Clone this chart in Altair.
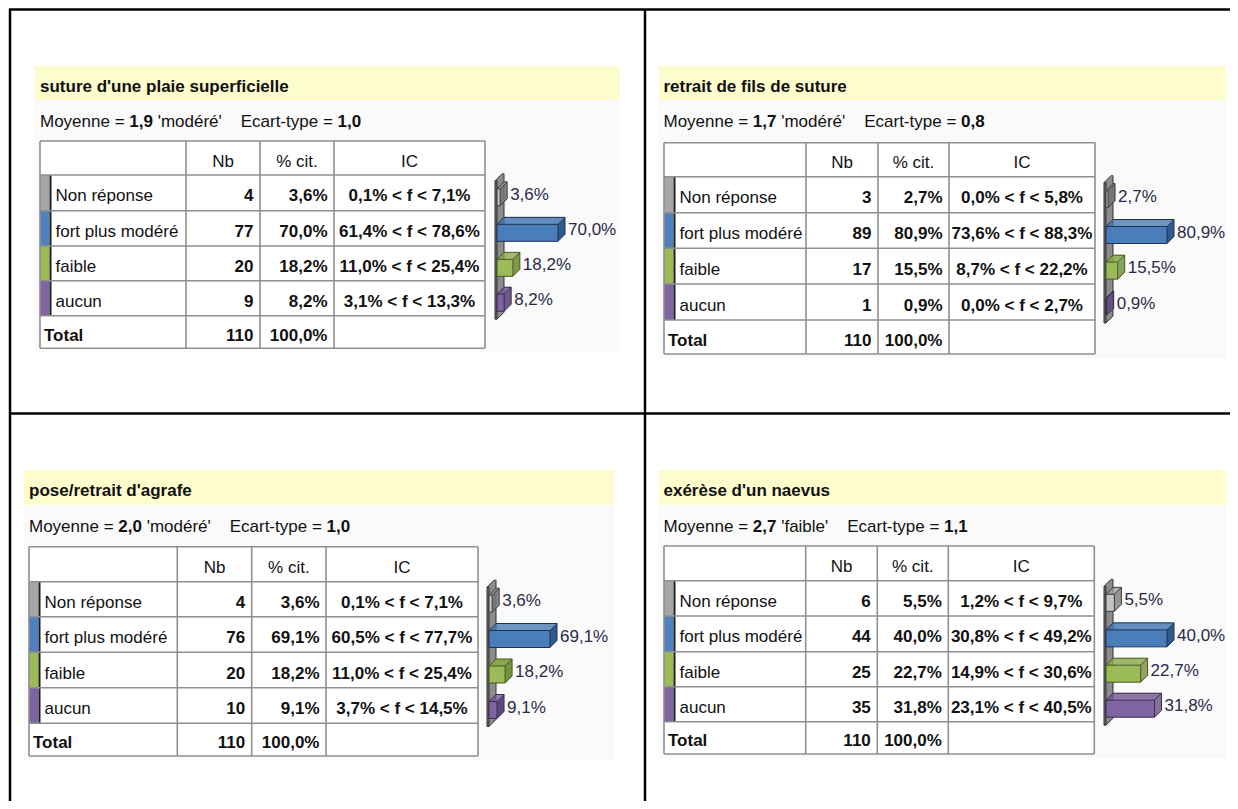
import altair as alt
import pandas as pd

# ---------------- data ----------------
titles = ["suture d'une plaie superficielle", "retrait de fils de suture",
          "pose/retrait d'agrafe", "exérèse d'un naevus"]
categories = ["Non réponse", "fort plus modéré", "faible", "aucun"]
header = ["", "Nb", "% cit.", "IC"]
total_label = "Total"
nb = [[4, 77, 20, 9], [3, 89, 17, 1], [4, 76, 20, 10], [6, 44, 25, 35]]
pct = [[3.6, 70.0, 18.2, 8.2], [2.7, 80.9, 15.5, 0.9],
       [3.6, 69.1, 18.2, 9.1], [5.5, 40.0, 22.7, 31.8]]
ic_low = [[0.1, 61.4, 11.0, 3.1], [0.0, 73.6, 8.7, 0.0],
          [0.1, 60.5, 11.0, 3.7], [1.2, 30.8, 14.9, 23.1]]
ic_high = [[7.1, 78.6, 25.4, 13.3], [5.8, 88.3, 22.2, 2.7],
           [7.1, 77.7, 25.4, 14.5], [9.7, 49.2, 30.6, 40.5]]
means = [1.9, 1.7, 2.0, 2.7]
mean_labels = ["modéré", "modéré", "modéré", "faible"]
sds = [1.0, 0.8, 1.0, 1.1]
total_nb = [110, 110, 110, 110]
total_pct = [100.0, 100.0, 100.0, 100.0]

# ---------------- style / layout ----------------
OFF = 8
W, H = 1222, 793
FONT = "Liberation Sans"
FS = 17
D = 7
L = 61
GRID = "#8f8f8f"

styles = [
    dict(strip="#a6a6a6", front="#c4c4c4", top="#9c9c9c", side="#767676", line="#3b3b3b"),
    dict(strip="#4f81bd", front="#4a7ebb", top="#4174b0", side="#2f5a8e", line="#1c3350"),
    dict(strip="#9bbb59", front="#9bbb59", top="#89a84b", side="#6f8a37", line="#47591f"),
    dict(strip="#8064a2", front="#8064a2", top="#725892", side="#5b4577", line="#3a2b4f"),
]

layouts = [
    dict(cols=[40, 186, 260, 334, 485], rows=[141, 175, 210.7, 246, 280.7, 315.7, 348.3],
         band=(35, 620, 66, 100), bg_bottom=353, title_base=91.7, moy_base=126.5, tx=40, x0=497),
    dict(cols=[664, 806, 878, 949, 1095], rows=[142.7, 176.7, 212.7, 248.3, 284, 320, 354],
         band=(659, 1226, 66, 100), bg_bottom=358, title_base=91.7, moy_base=126.7, tx=663.5, x0=1106),
    dict(cols=[29, 177.3, 251.7, 326, 478], rows=[546.7, 581.7, 616.7, 652.3, 687.7, 723.3, 756],
         band=(24, 614, 470, 505), bg_bottom=760, title_base=496, moy_base=531.7, tx=29, x0=489),
    dict(cols=[664, 805.7, 877.3, 948.3, 1094.3], rows=[546, 580.7, 616, 651.7, 686.7, 721.7, 754],
         band=(659, 1226, 470, 505), bg_bottom=758, title_base=496, moy_base=531.7, tx=663.5, x0=1106),
]

AR = {' ': 278, "'": 191, ',': 278, '.': 278, '-': 333, '=': 584, '%': 889, '<': 584,
      'E': 667, 'M': 833, 'a': 556, 'b': 556, 'c': 500, 'd': 556, 'e': 556, 'é': 556,
      'f': 278, 'i': 222, 'l': 222, 'm': 833, 'n': 556, 'o': 556, 'p': 556, 'r': 333,
      's': 500, 't': 278, 'u': 556, 'y': 500}


def tw(s, bold=False):
    tot = 0
    for ch in s:
        if ch.isdigit():
            tot += 556
        else:
            tot += AR.get(ch, 556)
    return tot * FS / 1000.0


def fmt1(v):
    return f"{v:.1f}".replace(".", ",")


CX = alt.Scale(domain=[0, W], range=[0, W], zero=False, nice=False)


def PX(f):
    return alt.X(f, type="quantitative", scale=CX, axis=None)


def PY(f):
    return alt.Y(f, type="quantitative", scale=None, axis=None)


# ---------------- canvas (tables, titles) ----------------
rects, grid, texts = [], [], []


def add_rect(x1, x2, y1, y2, fill):
    rects.append(dict(x=x1 - OFF, x2=x2 - OFF, y=y1 - OFF, y2=y2 - OFF, fill=fill))


def add_text(x, y, t, align, bold):
    texts.append(dict(x=x - OFF, y=y - OFF, t=t, align=align, bold=bold))


for p, lay in enumerate(layouts):
    c, r = lay["cols"], lay["rows"]
    bx1, bx2, by1, by2 = lay["band"]
    add_rect(bx1, bx2, by2, lay["bg_bottom"], "#fafafa")
    add_rect(bx1, bx2, by1, by2, "#fcfccc")
    add_rect(c[0], c[4], r[0], r[-1], "#ffffff")
    for i in range(4):
        add_rect(c[0], c[0] + 9.5, r[i + 1], r[i + 2], styles[i]["strip"])
        add_rect(c[0] + 9.5, c[0] + 11.5, r[i + 1], r[i + 2], "#1e1e1e")
    for yy in r:
        grid.append(dict(x=c[0] - OFF, x2=c[4] - OFF, y=yy - OFF, y2=yy - OFF))
    for xx in c:
        grid.append(dict(x=xx - OFF, x2=xx - OFF, y=r[0] - OFF, y2=r[-1] - OFF))

    tx = lay["tx"]
    add_text(tx, lay["title_base"], titles[p], "left", True)
    yb = lay["moy_base"]
    s1 = "Moyenne = "
    m = fmt1(means[p])
    s3 = "'" + mean_labels[p] + "'"
    s4 = "Ecart-type = "
    x2_ = tx + tw(s1)
    x3_ = x2_ + tw(m, True) + tw(" ")
    x4_ = x3_ + tw(s3) + 4 * tw(" ")
    x5_ = x4_ + tw(s4)
    add_text(tx, yb, s1.strip(), "left", False)
    add_text(x2_, yb, m, "left", True)
    add_text(x3_, yb, s3, "left", False)
    add_text(x4_, yb, s4.strip(), "left", False)
    add_text(x5_, yb, fmt1(sds[p]), "left", True)

    def base(i):
        return (r[i] + r[i + 1]) / 2 + 8.5

    for j in range(1, 4):
        add_text((c[j] + c[j + 1]) / 2, base(0), header[j], "center", False)
    for i in range(4):
        add_text(c[0] + 15.5, base(i + 1), categories[i], "left", False)
        add_text(c[2] - 6.5, base(i + 1), str(nb[p][i]), "right", True)
        add_text(c[3] - 6.5, base(i + 1), fmt1(pct[p][i]) + "%", "right", True)
        add_text((c[3] + c[4]) / 2, base(i + 1),
                 f"{fmt1(ic_low[p][i])}% < f < {fmt1(ic_high[p][i])}%", "center", True)
    add_text(c[0] + 4, base(5), total_label, "left", True)
    add_text(c[2] - 6.5, base(5), str(total_nb[p]), "right", True)
    add_text(c[3] - 6.5, base(5), fmt1(total_pct[p]) + "%", "right", True)

rect_df = pd.DataFrame(rects)
grid_df = pd.DataFrame(grid)
text_df = pd.DataFrame(texts)
frame_df = pd.DataFrame([
    dict(x=1, x2=W, y=1.5, y2=1.5),
    dict(x=2, x2=2, y=1, y2=H),
    dict(x=637, x2=637, y=1, y2=H),
    dict(x=2, x2=W, y=405.5, y2=405.5),
])

canvas = [
    alt.Chart(rect_df).mark_rect().encode(
        x=PX("x"), x2="x2", y=PY("y"), y2="y2", color=alt.Color("fill:N", scale=None)),
    alt.Chart(grid_df).mark_rule(color=GRID, strokeWidth=1.6).encode(
        x=PX("x"), x2="x2", y=PY("y"), y2="y2"),
    alt.Chart(frame_df).mark_rule(color="#000000", strokeWidth=2.5).encode(
        x=PX("x"), x2="x2", y=PY("y"), y2="y2"),
]
for align in ["left", "center", "right"]:
    for bold in [False, True]:
        sub = text_df[(text_df["align"] == align) & (text_df["bold"] == bold)]
        if len(sub) == 0:
            continue
        canvas.append(
            alt.Chart(sub[["x", "y", "t"]]).mark_text(
                align=align, baseline="alphabetic", font=FONT, fontSize=FS,
                fontWeight="bold" if bold else "normal", color="#111111"
            ).encode(x=PX("x"), y=PY("y"), text="t:N"))

canvas_group = alt.layer(*canvas)


# ---------------- 3D bars ----------------
def panel_group(p):
    lay = layouts[p]
    x0 = lay["x0"] - OFF
    r = lay["rows"]
    cs = [(r[i + 1] + r[i + 2]) / 2 - OFF for i in range(4)]
    bars = pd.DataFrame({
        "v": pct[p],
        "z": [0.0] * 4,
        "top": [cc - 4 for cc in cs],
        "bot": [cc + 13 for cc in cs],
        "ly": [cc + 7 for cc in cs],
        "cfront": [s["front"] for s in styles],
        "ctop": [s["top"] for s in styles],
        "cside": [s["side"] for s in styles],
        "cline": [s["line"] for s in styles],
        "lab": [fmt1(v) + "%" for v in pct[p]],
    })
    wall = pd.DataFrame({"z": [0.0], "wtop": [cs[0] - 12], "wbot": [cs[3] + 21]})
    xs = alt.Scale(zero=True, nice=False, range=[x0, x0 + L])
    XV = alt.X("v:Q", scale=xs, axis=None)
    XZ = alt.X("z:Q", scale=xs, axis=None)
    layers = []
    wb = alt.Chart(wall)
    for k in range(D):
        layers.append(wb.mark_rect(color="#8c8c8c", xOffset=k - 2, x2Offset=k + 1,
                                   yOffset=-(k + 0.5), y2Offset=-(k + 0.5)).encode(
            x=XZ, x2="z", y=PY("wtop"), y2="wbot"))
    layers.append(wb.mark_rect(color="#6a6a6a", stroke="#333333", strokeWidth=1, xOffset=-2).encode(
        x=XZ, x2="z", y=PY("wtop"), y2="wbot"))
    layers.append(wb.mark_rule(color="#333333", strokeWidth=1, xOffset=-2, x2Offset=D - 2, y2Offset=-D).encode(
        x=XZ, x2="z", y=PY("wtop"), y2="wtop"))
    layers.append(wb.mark_rule(color="#333333", strokeWidth=1, xOffset=D - 2, x2Offset=D, yOffset=-D).encode(
        x=XZ, x2="z", y=PY("wtop")))
    layers.append(wb.mark_rule(color="#333333", strokeWidth=1, xOffset=D, yOffset=-D, y2Offset=-D).encode(
        x=XZ, y=PY("wtop"), y2="wbot"))
    layers.append(wb.mark_rule(color="#333333", strokeWidth=1, x2Offset=D, y2Offset=-D).encode(
        x=XZ, x2="z", y=PY("wbot"), y2="wbot"))

    bb = alt.Chart(bars)
    for k in range(D):
        layers.append(bb.mark_rect(xOffset=k + 0.5, x2Offset=k + 0.5, yOffset=-(k + 1), y2Offset=-k).encode(
            x=XZ, x2="v", y=PY("top"), y2="top", color=alt.Color("ctop:N", scale=None)))
    for k in range(D):
        layers.append(bb.mark_rect(xOffset=k, x2Offset=k + 1, yOffset=-(k + 0.5), y2Offset=-(k + 0.5)).encode(
            x=XV, x2="v", y=PY("top"), y2="bot", color=alt.Color("cside:N", scale=None)))
    layers.append(bb.mark_rect(strokeWidth=1).encode(
        x=XZ, x2="v", y=PY("top"), y2="bot",
        color=alt.Color("cfront:N", scale=None), stroke=alt.Stroke("cline:N", scale=None)))
    lc = alt.Color("cline:N", scale=None)
    layers.append(bb.mark_rule(strokeWidth=1, x2Offset=D, y2Offset=-D).encode(
        x=XZ, x2="z", y=PY("top"), y2="top", color=lc))
    layers.append(bb.mark_rule(strokeWidth=1, xOffset=D, x2Offset=D, yOffset=-D).encode(
        x=XZ, x2="v", y=PY("top"), color=lc))
    layers.append(bb.mark_rule(strokeWidth=1, x2Offset=D, y2Offset=-D).encode(
        x=XV, x2="v", y=PY("top"), y2="top", color=lc))
    layers.append(bb.mark_rule(strokeWidth=1, xOffset=D, yOffset=-D, y2Offset=-D).encode(
        x=XV, y=PY("top"), y2="bot", color=lc))
    layers.append(bb.mark_rule(strokeWidth=1, x2Offset=D, y2Offset=-D).encode(
        x=XV, x2="v", y=PY("bot"), y2="bot", color=lc))
    layers.append(bb.mark_text(align="left", baseline="alphabetic", dx=10, font=FONT, fontSize=FS,
                               color="#2a2a48").encode(x=XV, y=PY("ly"), text="lab:N"))
    return alt.layer(*layers)


groups = [panel_group(p) for p in range(4)]

chart = alt.layer(canvas_group, *groups).resolve_scale(x="independent").properties(
    width=W, height=H, padding=0, background="white",
    autosize=alt.AutoSizeParams(type="none"),
).configure_view(stroke=None)

chart.save("out.html", embed_options={"renderer": "svg", "actions": False})
